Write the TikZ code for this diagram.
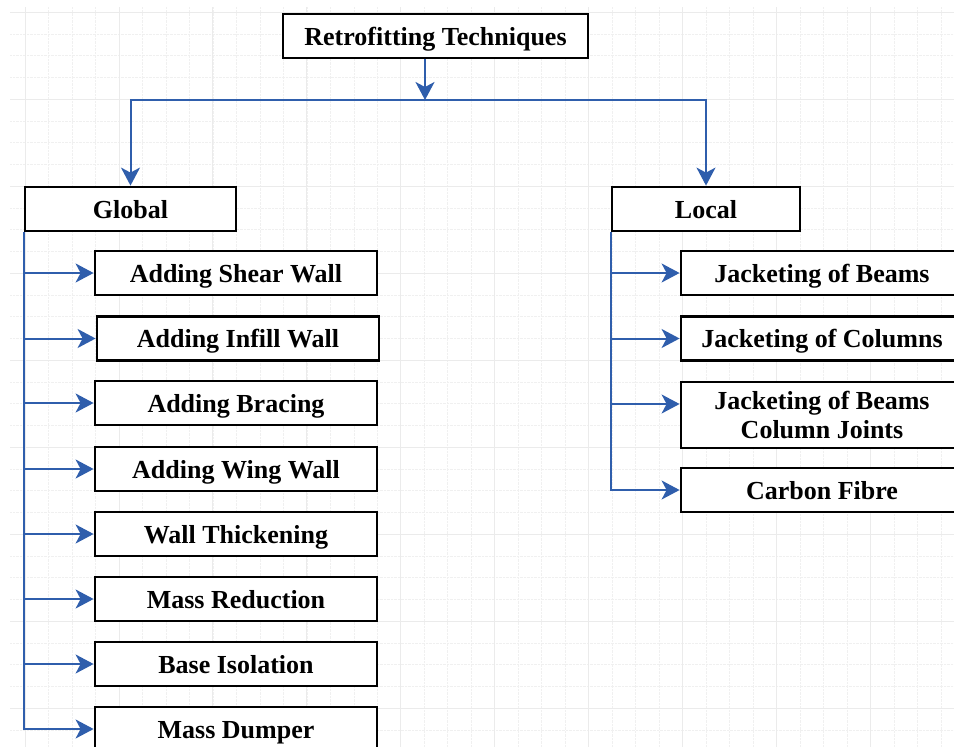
\documentclass[tikz,border=0pt]{standalone}
\usepackage{fontspec}
\setmainfont{Liberation Serif}
\usetikzlibrary{positioning,calc,arrows.meta}
\definecolor{linkblue}{RGB}{47,94,172}

\begin{document}
\begin{tikzpicture}[x=1pt,y=-1pt,
	box/.style={draw=black,line width=2.8pt,fill=white,minimum height=44pt,inner sep=0pt,
		text height=18pt,text depth=0pt,align=center,font=\fontsize{26}{29}\selectfont\bfseries},
	leaf/.style={box,minimum width=282pt},
	link/.style={draw=linkblue,line width=2pt,-{Stealth[length=18pt,width=19pt,inset=5pt]}}]
	\path[use as bounding box,clip] (0,0) rectangle (954,747);
	% faint grid
	\foreach \i in {0,...,40}
		\draw[gray!12,densely dotted] (25+23.48*\i,7) -- (25+23.48*\i,747);
	\foreach \j in {0,...,34}
		\draw[gray!12,densely dotted] (10,12+21.75*\j) -- (954,12+21.75*\j);
	\foreach \i in {0,...,9}
		\draw[gray!16,line width=0.8pt] (25+93.9*\i,7) -- (25+93.9*\i,747);
	\foreach \j in {0,...,8}
		\draw[gray!16,line width=0.8pt] (10,12+87*\j) -- (954,12+87*\j);

	\node[box,minimum width=305pt] (title) at (435.5,36) {Retrofitting Techniques};
	\node[box,minimum width=211pt] (global) at (130.5,209) {Global};
	\node[box,minimum width=188pt] (local) at (706,209) {Local};
	\coordinate (split) at (425,100);

	\node[leaf] (shear) at (236,273) {Adding Shear Wall};
	\node[leaf] (infill) at (238,338.5) {Adding Infill Wall};
	\node[leaf] (bracing) at (236,403) {Adding Bracing};
	\node[leaf] (wing) at (236,469) {Adding Wing Wall};
	\node[leaf] (thick) at (236,534) {Wall Thickening};
	\node[leaf] (massred) at (236,599) {Mass Reduction};
	\node[leaf] (base) at (236,664) {Base Isolation};
	\node[leaf] (dumper) at (236,729) {Mass Dumper};

	\node[leaf] (beams) at (822,273) {Jacketing of Beams};
	\node[leaf] (columns) at (822,338.5) {Jacketing of Columns};
	\node[leaf,minimum height=66pt,text height=,text depth=] (joints) at (822,415)
		{Jacketing of Beams\\Column Joints};
	\node[leaf] (carbon) at (822,490) {Carbon Fibre};

	\draw[link] (title.south -| split) -- (split);
	\draw[link] (split) -| (global.north);
	\draw[link] (split) -| (local.north);
	\foreach \n in {shear,infill,bracing,wing,thick,massred,base,dumper}
		\draw[link] (global.south west) |- (\n.west);
	\foreach \n in {beams,columns,carbon}
		\draw[link] (local.south west) |- (\n.west);
	\draw[link] (local.south west) |- ([yshift=11pt]joints.west);
\end{tikzpicture}
\end{document}
